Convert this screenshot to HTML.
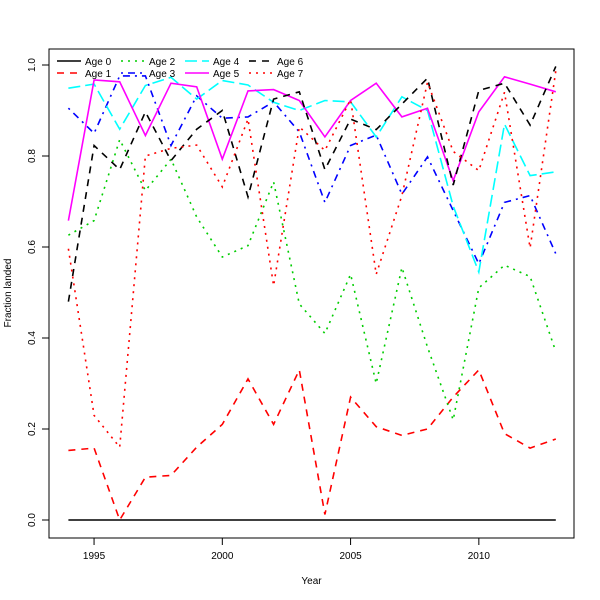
<!DOCTYPE html>
<html><head><meta charset="utf-8"><style>
body{margin:0;background:#fff;}
svg{display:block;font-family:"Liberation Sans","DejaVu Sans",sans-serif;}
</style></head><body>
<svg id="chart" width="600" height="600" viewBox="0 0 600 600">
<rect width="600" height="600" fill="#fff"/>
<g id="series"></g>
<rect x="49" y="49" width="525" height="489" fill="none" stroke="#000" stroke-width="1"/>
<g id="axes"></g>
<text x="311.5" y="584" font-size="10" text-anchor="middle">Year</text>
<text transform="translate(11,293) rotate(-90)" font-size="10" text-anchor="middle">Fraction landed</text>
<g id="legend"></g>
</svg>
<script>
const years=[1994,1995,1996,1997,1998,1999,2000,2001,2002,2003,2004,2005,2006,2007,2008,2009,2010,2011,2012,2013];
const age0=[0,0,0,0,0,0,0,0,0,0,0,0,0,0,0,0,0,0,0,0];
const age1=[0.153,0.158,0.0,0.094,0.098,0.16,0.21,0.31,0.21,0.33,0.012,0.27,0.205,0.186,0.2,0.27,0.33,0.19,0.158,0.178];
const age2=[0.626,0.658,0.836,0.724,0.793,0.666,0.578,0.603,0.743,0.475,0.41,0.54,0.30,0.555,0.38,0.22,0.51,0.56,0.535,0.37];
const age3=[0.905,0.85,0.976,0.976,0.823,0.932,0.883,0.886,0.919,0.853,0.698,0.823,0.846,0.716,0.798,0.68,0.563,0.698,0.713,0.585];
const age4=[0.949,0.958,0.859,0.955,0.973,0.925,0.966,0.956,0.918,0.90,0.922,0.919,0.842,0.93,0.90,0.69,0.545,0.87,0.757,0.765];
const age5=[0.658,0.967,0.963,0.845,0.96,0.952,0.793,0.943,0.946,0.922,0.842,0.922,0.96,0.886,0.905,0.746,0.897,0.974,0.958,0.941];
const age6=[0.48,0.823,0.77,0.897,0.79,0.859,0.90,0.71,0.925,0.941,0.77,0.881,0.858,0.914,0.971,0.736,0.944,0.96,0.868,0.997];
const age7=[0.596,0.23,0.16,0.80,0.817,0.824,0.732,0.881,0.515,0.864,0.812,0.924,0.54,0.713,0.962,0.81,0.768,0.94,0.598,0.987];
const xTicks=[1995,2000,2005,2010];
const yTicks=[0,0.2,0.4,0.6,0.8,1.0];
const yTickLabels=["0.0","0.2","0.4","0.6","0.8","1.0"];
const seriesNames=["Age 0","Age 1","Age 2","Age 3","Age 4","Age 5","Age 6","Age 7"];

const NS="http://www.w3.org/2000/svg";
function X(yr){return 68.4+(yr-1994)*(555.8-68.4)/19;}
function Y(v){return 520-v*455;}
function mk(tag,attrs,parent){const e=document.createElementNS(NS,tag);for(const k in attrs)e.setAttribute(k,attrs[k]);parent.appendChild(e);return e;}

const styles=[
 {c:"#000",d:""},{c:"#ff0000",d:"7,6"},{c:"#00cd00",d:"2,5"},{c:"#0000ff",d:"2,5,7,5"},
 {c:"#00ffff",d:"12,5"},{c:"#ff00ff",d:""},{c:"#000",d:"7,6"},{c:"#ff0000",d:"2,5"}];
const data=[age0,age1,age2,age3,age4,age5,age6,age7];
const sg=document.getElementById('series');
data.forEach((arr,i)=>{
 const p=mk('polyline',{points:arr.map((v,j)=>X(years[j]).toFixed(1)+","+Y(v).toFixed(1)).join(" "),fill:"none",stroke:styles[i].c,"stroke-width":1.6,"stroke-dasharray":styles[i].d},sg);
 
 
});
const ax=document.getElementById('axes');
xTicks.forEach(t=>{
 const l=mk('line',{x1:X(t),x2:X(t),y1:538,y2:545,stroke:"#000"},ax);
 
 
 const tx=mk('text',{x:X(t),y:559,"font-size":10,"text-anchor":"middle"},ax);tx.textContent=t;
 
 
});
mk('line',{x1:X(1995),x2:X(2010),y1:538,y2:538,stroke:"#000"},ax);
yTicks.forEach((t,i)=>{
 const l=mk('line',{x1:42,x2:49,y1:Y(t),y2:Y(t),stroke:"#000"},ax);
 
 
 const tx=mk('text',{transform:`translate(35,${Y(t)}) rotate(-90)`,"font-size":10,"text-anchor":"middle"},ax);tx.textContent=yTickLabels[i];
 
 
});
mk('line',{x1:49,x2:49,y1:Y(0),y2:Y(1),stroke:"#000"},ax);
const lg=document.getElementById('legend');
const colX=[57,121,185,249];
seriesNames.forEach((n,i)=>{
 const col=Math.floor(i/2),row=i%2;
 const x=colX[col], y=61+row*12;
 const g=mk('g',{},lg);
 
 
 mk('line',{x1:x,x2:x+24,y1:y,y2:y,stroke:styles[i].c,"stroke-width":1.6,"stroke-dasharray":styles[i].d},g);
 const t=mk('text',{x:x+28,y:y+4,"font-size":10},g);t.textContent=n;
});
</script>
</body></html>
